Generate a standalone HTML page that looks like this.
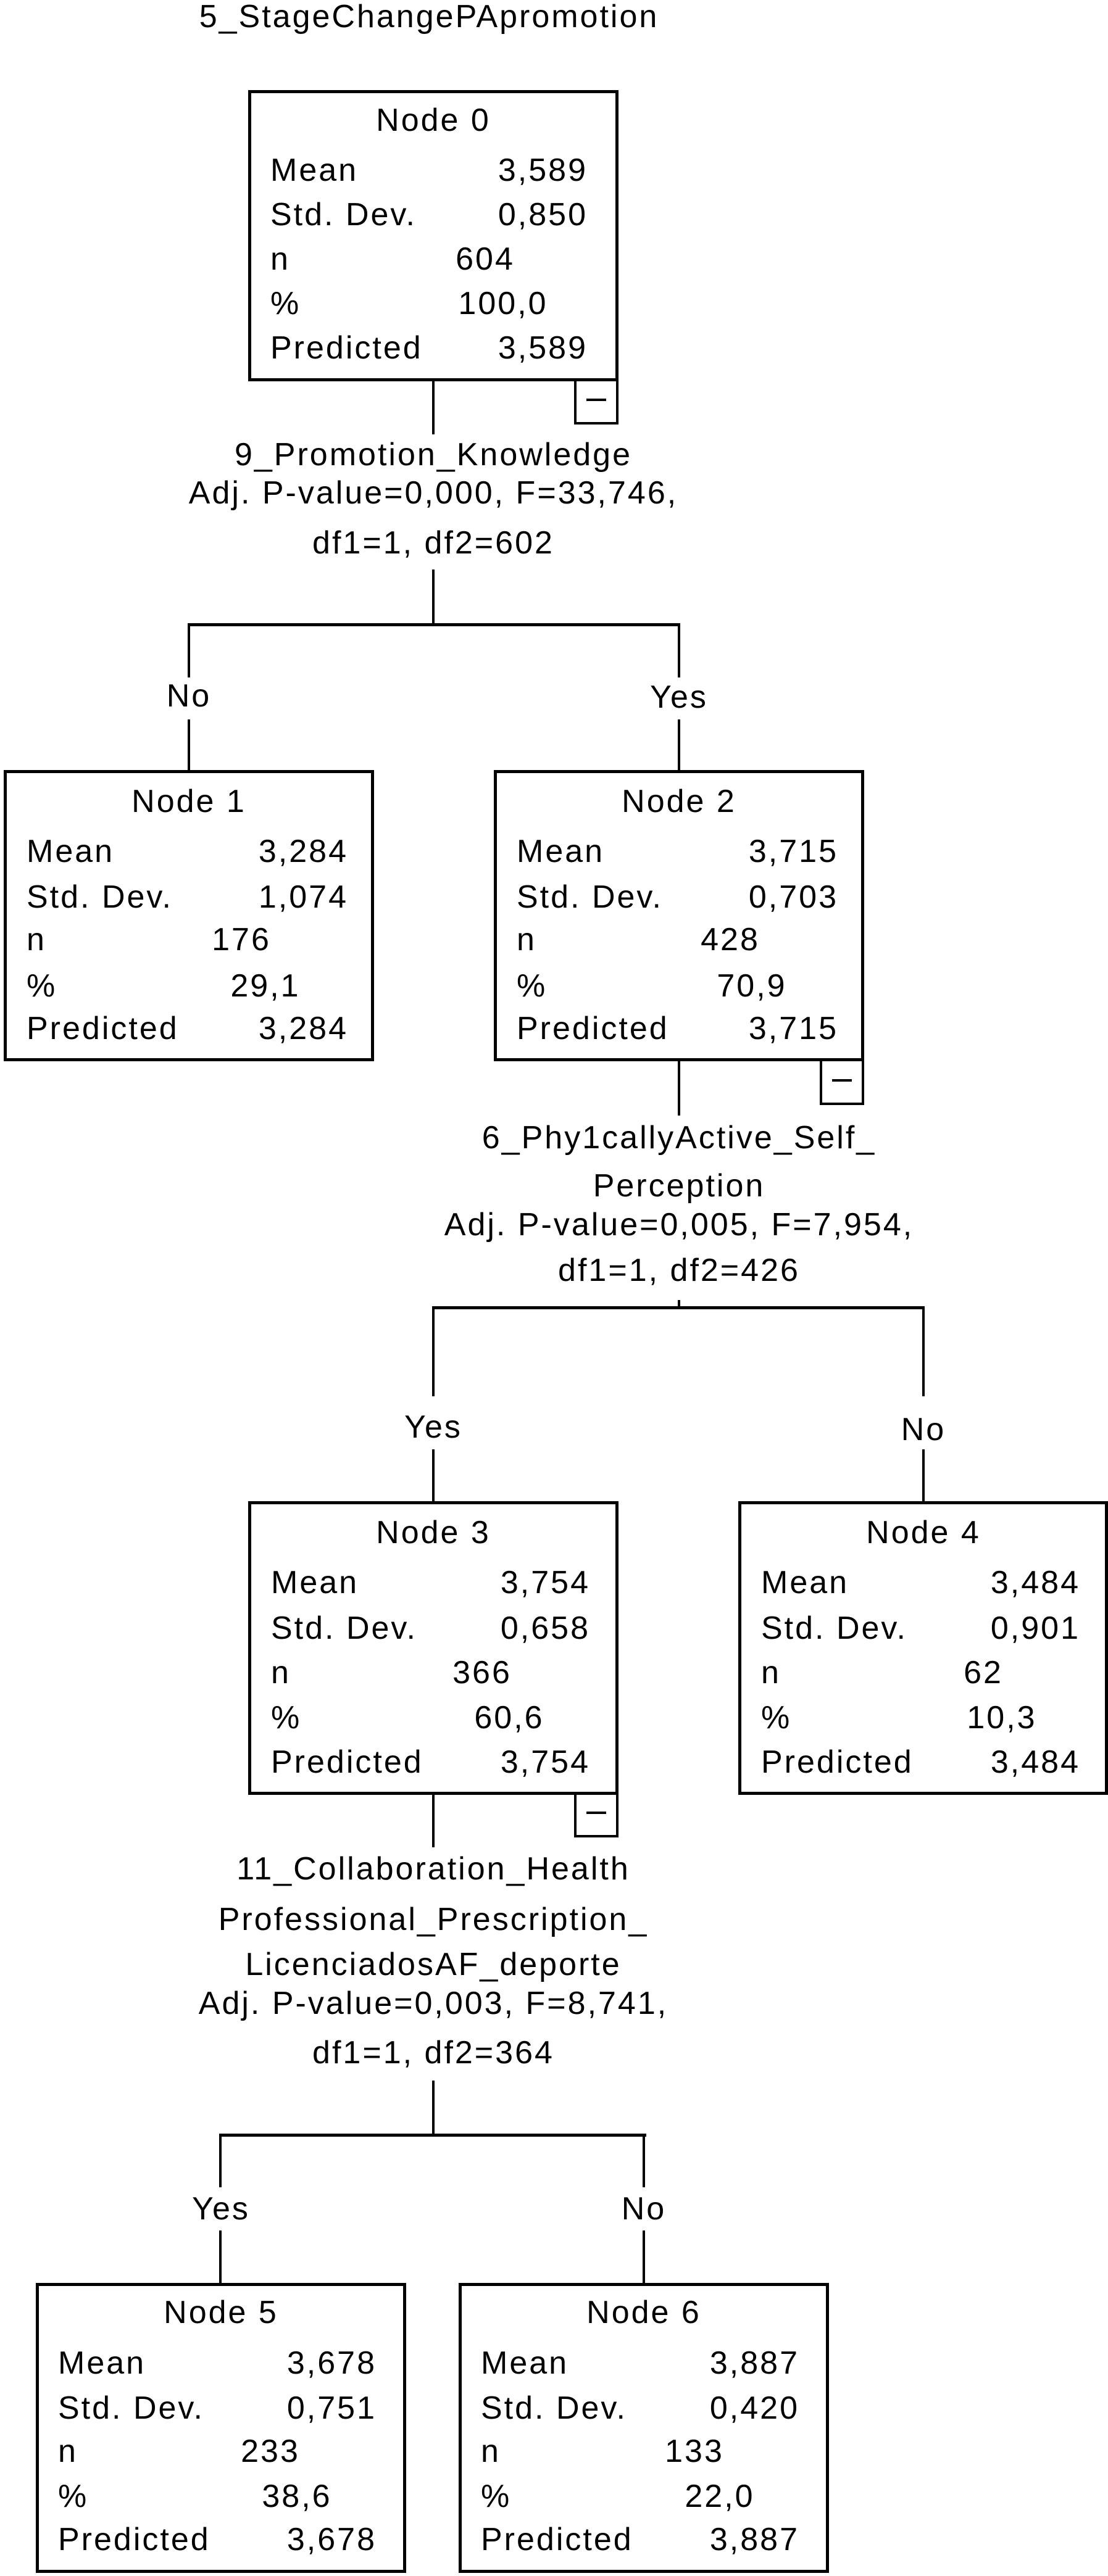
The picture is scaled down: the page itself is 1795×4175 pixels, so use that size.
<!DOCTYPE html>
<html><head><meta charset="utf-8">
<style>
html,body{margin:0;padding:0;background:#fff;}
body{width:1795px;height:4175px;position:relative;overflow:hidden;font-family:"Liberation Sans",Arial,sans-serif;color:#000;}
.t{position:absolute;font-size:52px;line-height:52px;letter-spacing:3px;white-space:nowrap;}
.c{transform:translateX(-50%);}
.box{position:absolute;border:5px solid #000;box-sizing:border-box;width:600px;height:472px;background:#fff;}
.l{position:absolute;background:#000;}
.mb{position:absolute;width:72px;height:72px;border:4px solid #000;border-top:none;box-sizing:border-box;}
.mb:after{content:"";position:absolute;left:16px;right:16px;top:30px;height:4px;background:#000;}
</style></head><body>

<div class="t c" style="left:695px;top:1px;">5_StageChangePApromotion</div>

<!-- Node 0 -->
<div class="box" style="left:402px;top:146px;"></div>
<div class="t c" style="left:702px;top:169px;">Node 0</div>
<div class="t" style="left:438px;top:250px;">Mean</div><div class="t" style="right:843px;top:250px;">3,589</div>
<div class="t" style="left:438px;top:322px;">Std. Dev.</div><div class="t" style="right:843px;top:322px;">0,850</div>
<div class="t" style="left:438px;top:394px;">n</div><div class="t c" style="left:786px;top:394px;">604</div>
<div class="t" style="left:438px;top:466px;">%</div><div class="t c" style="left:815px;top:466px;">100,0</div>
<div class="t" style="left:438px;top:538px;">Predicted</div><div class="t" style="right:843px;top:538px;">3,589</div>
<div class="mb" style="left:930px;top:616px;"></div>

<div class="l" style="left:700px;top:616px;width:4px;height:88px;"></div>
<div class="t c" style="left:702px;top:711px;">9_Promotion_Knowledge</div>
<div class="t c" style="left:702px;top:773px;">Adj. P-value=0,000, F=33,746,</div>
<div class="t c" style="left:702px;top:854px;">df1=1, df2=602</div>
<div class="l" style="left:700px;top:923px;width:4px;height:91px;"></div>
<div class="l" style="left:304px;top:1010px;width:798px;height:5px;"></div>
<div class="l" style="left:304px;top:1010px;width:4px;height:88px;"></div>
<div class="l" style="left:1098px;top:1010px;width:4px;height:88px;"></div>
<div class="t c" style="left:306px;top:1102px;">No</div>
<div class="t c" style="left:1100px;top:1104px;">Yes</div>
<div class="l" style="left:304px;top:1166px;width:4px;height:84px;"></div>
<div class="l" style="left:1098px;top:1166px;width:4px;height:84px;"></div>

<!-- Node 1 -->
<div class="box" style="left:6px;top:1248px;"></div>
<div class="t c" style="left:306px;top:1273px;">Node 1</div>
<div class="t" style="left:43px;top:1354px;">Mean</div><div class="t" style="right:1231px;top:1354px;">3,284</div>
<div class="t" style="left:43px;top:1428px;">Std. Dev.</div><div class="t" style="right:1231px;top:1428px;">1,074</div>
<div class="t" style="left:43px;top:1497px;">n</div><div class="t c" style="left:391px;top:1497px;">176</div>
<div class="t" style="left:43px;top:1572px;">%</div><div class="t c" style="left:430px;top:1572px;">29,1</div>
<div class="t" style="left:43px;top:1641px;">Predicted</div><div class="t" style="right:1231px;top:1641px;">3,284</div>

<!-- Node 2 -->
<div class="box" style="left:800px;top:1248px;"></div>
<div class="t c" style="left:1100px;top:1273px;">Node 2</div>
<div class="t" style="left:837px;top:1354px;">Mean</div><div class="t" style="right:437px;top:1354px;">3,715</div>
<div class="t" style="left:837px;top:1428px;">Std. Dev.</div><div class="t" style="right:437px;top:1428px;">0,703</div>
<div class="t" style="left:837px;top:1497px;">n</div><div class="t c" style="left:1183px;top:1497px;">428</div>
<div class="t" style="left:837px;top:1572px;">%</div><div class="t c" style="left:1218px;top:1572px;">70,9</div>
<div class="t" style="left:837px;top:1641px;">Predicted</div><div class="t" style="right:437px;top:1641px;">3,715</div>
<div class="mb" style="left:1328px;top:1719px;"></div>

<div class="l" style="left:1098px;top:1719px;width:4px;height:89px;"></div>
<div class="t c" style="left:1100px;top:1818px;">6_Phy1callyActive_Self_</div>
<div class="t c" style="left:1100px;top:1896px;">Perception</div>
<div class="t c" style="left:1100px;top:1959px;">Adj. P-value=0,005, F=7,954,</div>
<div class="t c" style="left:1100px;top:2033px;">df1=1, df2=426</div>
<div class="l" style="left:1098px;top:2107px;width:4px;height:14px;"></div>
<div class="l" style="left:700px;top:2117px;width:798px;height:5px;"></div>
<div class="l" style="left:700px;top:2117px;width:4px;height:146px;"></div>
<div class="l" style="left:1494px;top:2117px;width:4px;height:146px;"></div>
<div class="t c" style="left:702px;top:2287px;">Yes</div>
<div class="t c" style="left:1496px;top:2291px;">No</div>
<div class="l" style="left:700px;top:2349px;width:4px;height:86px;"></div>
<div class="l" style="left:1494px;top:2349px;width:4px;height:86px;"></div>

<!-- Node 3 -->
<div class="box" style="left:402px;top:2433px;height:476px;"></div>
<div class="t c" style="left:702px;top:2458px;">Node 3</div>
<div class="t" style="left:439px;top:2539px;">Mean</div><div class="t" style="right:839px;top:2539px;">3,754</div>
<div class="t" style="left:439px;top:2613px;">Std. Dev.</div><div class="t" style="right:839px;top:2613px;">0,658</div>
<div class="t" style="left:439px;top:2685px;">n</div><div class="t c" style="left:781px;top:2685px;">366</div>
<div class="t" style="left:439px;top:2758px;">%</div><div class="t c" style="left:825px;top:2758px;">60,6</div>
<div class="t" style="left:439px;top:2830px;">Predicted</div><div class="t" style="right:839px;top:2830px;">3,754</div>
<div class="mb" style="left:930px;top:2906px;"></div>

<!-- Node 4 -->
<div class="box" style="left:1196px;top:2433px;width:599px;height:476px;"></div>
<div class="t c" style="left:1496px;top:2458px;">Node 4</div>
<div class="t" style="left:1233px;top:2539px;">Mean</div><div class="t" style="right:45px;top:2539px;">3,484</div>
<div class="t" style="left:1233px;top:2613px;">Std. Dev.</div><div class="t" style="right:45px;top:2613px;">0,901</div>
<div class="t" style="left:1233px;top:2685px;">n</div><div class="t c" style="left:1593px;top:2685px;">62</div>
<div class="t" style="left:1233px;top:2758px;">%</div><div class="t c" style="left:1623px;top:2758px;">10,3</div>
<div class="t" style="left:1233px;top:2830px;">Predicted</div><div class="t" style="right:45px;top:2830px;">3,484</div>

<div class="l" style="left:700px;top:2906px;width:4px;height:88px;"></div>
<div class="t c" style="left:702px;top:3003px;">11_Collaboration_Health</div>
<div class="t c" style="left:702px;top:3085px;">Professional_Prescription_</div>
<div class="t c" style="left:702px;top:3158px;">LicenciadosAF_deporte</div>
<div class="t c" style="left:702px;top:3221px;">Adj. P-value=0,003, F=8,741,</div>
<div class="t c" style="left:702px;top:3301px;">df1=1, df2=364</div>
<div class="l" style="left:700px;top:3372px;width:4px;height:90px;"></div>
<div class="l" style="left:355px;top:3458px;width:692px;height:5px;"></div>
<div class="l" style="left:355px;top:3458px;width:4px;height:87px;"></div>
<div class="l" style="left:1041px;top:3458px;width:4px;height:87px;"></div>
<div class="t c" style="left:358px;top:3554px;">Yes</div>
<div class="t c" style="left:1043px;top:3554px;">No</div>
<div class="l" style="left:355px;top:3615px;width:4px;height:88px;"></div>
<div class="l" style="left:1041px;top:3615px;width:4px;height:88px;"></div>

<!-- Node 5 -->
<div class="box" style="left:58px;top:3700px;height:470px;"></div>
<div class="t c" style="left:358px;top:3722px;">Node 5</div>
<div class="t" style="left:94px;top:3804px;">Mean</div><div class="t" style="right:1185px;top:3804px;">3,678</div>
<div class="t" style="left:94px;top:3877px;">Std. Dev.</div><div class="t" style="right:1185px;top:3877px;">0,751</div>
<div class="t" style="left:94px;top:3947px;">n</div><div class="t c" style="left:438px;top:3947px;">233</div>
<div class="t" style="left:94px;top:4020px;">%</div><div class="t c" style="left:481px;top:4020px;">38,6</div>
<div class="t" style="left:94px;top:4090px;">Predicted</div><div class="t" style="right:1185px;top:4090px;">3,678</div>

<!-- Node 6 -->
<div class="box" style="left:743px;top:3700px;height:470px;"></div>
<div class="t c" style="left:1043px;top:3722px;">Node 6</div>
<div class="t" style="left:779px;top:3804px;">Mean</div><div class="t" style="right:500px;top:3804px;">3,887</div>
<div class="t" style="left:779px;top:3877px;">Std. Dev.</div><div class="t" style="right:500px;top:3877px;">0,420</div>
<div class="t" style="left:779px;top:3947px;">n</div><div class="t c" style="left:1125px;top:3947px;">133</div>
<div class="t" style="left:779px;top:4020px;">%</div><div class="t c" style="left:1166px;top:4020px;">22,0</div>
<div class="t" style="left:779px;top:4090px;">Predicted</div><div class="t" style="right:500px;top:4090px;">3,887</div>

</body></html>
